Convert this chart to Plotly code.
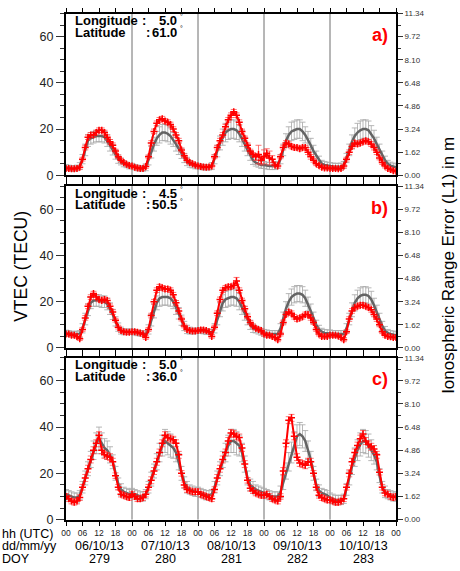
import plotly.graph_objects as go

# ---------------- data ----------------
HOURS = list(range(121))  # hourly samples, 06/10/13 00 UTC .. 11/10/13 00 UTC
DATES = ["06/10/13", "07/10/13", "08/10/13", "09/10/13", "10/10/13"]
DOYS = ["279", "280", "281", "282", "283"]
PANEL_TAGS = ["a)", "b)", "c)"]
LONGITUDES = ["5.0", "4.5", "5.0"]
LATITUDES = ["61.0", "50.5", "36.0"]
LEFT_TICKS = [0, 20, 40, 60]
RIGHT_TICKS = [0.00, 1.62, 3.24, 4.86, 6.48, 8.10, 9.72, 11.34]
TECU_MAX = 70
M_MAX = 11.34

# panel a  (red = station VTEC, gray = mean with std)
a_red = [3, 3, 2.8, 2.8, 3, 3.5, 7, 12, 16.5, 17.5, 17.5, 18.5, 19.5, 19.5, 18.5, 16.5, 14.5, 13, 10.5, 8, 6.5, 5.5, 4.8, 4.3,
         4, 3.5, 3.2, 3, 3, 3.8, 8, 14, 19, 22.5, 24, 24.5, 23.5, 23, 22, 20, 17.5, 15, 11, 8.5, 6.5, 5.5, 5, 4.5,
         4, 3.8, 3.6, 3.5, 3.6, 4, 8, 12, 15, 17.5, 21, 24, 26, 27.5, 26, 23, 19, 16, 13, 10.5, 9, 8, 9, 6.5,
         8, 9.5, 7.5, 7, 4.5, 4, 8, 12, 14, 13.5, 12.5, 12, 12, 11.5, 12, 12, 10, 8, 6.5, 5, 4.2, 3.5, 3.2, 3.2,
         3, 3, 3, 2.8, 3, 4, 7, 10, 12.5, 14, 13.5, 14, 14.5, 15, 14.5, 13.5, 12, 10, 7.5, 5.5, 4, 3, 2.5, 2,
         1.8]
a_red_err = [0.8, 0.8, 0.8, 0.8, 0.8, 0.8, 0.8, 1, 1, 1, 1, 1, 1, 1, 1, 1, 1, 1, 0.8, 0.8, 0.8, 0.8, 0.8, 0.8,
             0.8, 0.8, 0.8, 0.8, 0.8, 0.8, 0.8, 1, 1, 1, 1, 1, 1, 1, 1, 1, 1, 1, 0.8, 0.8, 0.8, 0.8, 0.8, 0.8,
             0.8, 0.8, 0.8, 0.8, 0.8, 0.8, 0.8, 1, 1, 1, 1, 1, 1, 1, 1, 1, 1, 1, 1, 0.8, 0.8, 1.5, 4, 2,
             3, 2, 3, 1.5, 0.8, 0.8, 0.8, 1, 1, 1, 1, 1, 1, 1, 1, 1, 1, 1, 0.8, 0.8, 0.8, 0.8, 0.8, 0.8,
             0.8, 0.8, 0.8, 0.8, 0.8, 0.8, 0.8, 1, 1, 1, 1, 1, 1, 1, 1, 1, 1, 1, 0.8, 0.8, 0.8, 0.8, 0.8, 0.8,
             0.8]
a_gray = [3.5, 3.2, 3, 3, 3.2, 4, 7, 11, 15, 16, 16.5, 17, 17, 17, 16.5, 15, 13, 11, 9, 7, 6, 5, 4.5, 4,
          4, 3.5, 3.2, 3, 3, 3.5, 6.5, 10, 13.5, 16, 17.5, 18.5, 18.5, 18, 17, 15.5, 13.5, 11.5, 9.5, 7.5, 6, 5, 4.5, 4,
          4, 3.7, 3.5, 3.5, 3.5, 4, 7, 10.5, 14, 16.5, 18.5, 19.5, 20, 20, 19.5, 18, 16, 13.5, 11, 8.5, 6.5, 5.5, 5, 4.5,
          4.5, 4.2, 4, 4, 4, 4.5, 7, 11, 15, 17.5, 19, 19.5, 20, 20, 19, 17.5, 15.5, 13, 10.5, 8.5, 6.5, 5, 4.5, 4.2,
          4, 3.8, 3.7, 3.7, 3.8, 4.5, 7.5, 11, 14.5, 17, 18.5, 19.5, 20, 20, 19.5, 18, 16, 13.5, 11, 8.5, 6.5, 5, 4.2, 3.8,
          3.5]
a_gray_err = [1.2, 1.2, 1.2, 1.2, 1.2, 1.5, 2, 2.5, 2.5, 2.5, 2.5, 2.5, 2.5, 2.5, 2.5, 2.5, 2.5, 2.2, 2, 1.8, 1.5, 1.3, 1.2, 1.2,
              1.2, 1.2, 1.2, 1.2, 1.2, 1.5, 2, 2.5, 3, 3, 3.5, 3.5, 3.5, 3.5, 3.5, 3, 3, 2.5, 2.2, 2, 1.8, 1.5, 1.3, 1.2,
              1.2, 1.2, 1.2, 1.2, 1.2, 1.5, 2, 2.5, 3, 3.5, 4, 4, 4, 4, 4, 3.5, 3.5, 3, 2.5, 2, 1.8, 1.5, 1.5, 1.5,
              1.5, 1.5, 1.5, 1.5, 1.5, 1.5, 2, 2.5, 3, 3.5, 4, 4, 4, 4, 4, 3.5, 3.5, 3, 2.5, 2, 1.8, 1.5, 1.5, 1.5,
              1.5, 1.5, 1.5, 1.5, 1.5, 1.5, 2, 2.5, 3, 3.5, 4, 4, 4, 4, 4, 3.5, 3.5, 3, 2.5, 2, 1.8, 1.5, 1.5, 1.5,
              1.5]

# panel b
b_red = [6, 6, 5.5, 5.5, 5, 4, 8, 13, 18, 22, 23.5, 22, 21, 20.5, 21, 20.5, 18, 15.5, 12, 9, 7.5, 7, 6.8, 6.8,
         7, 7, 6.8, 6.5, 6, 4.5, 8, 14, 20, 25, 26.5, 26, 25.5, 25.5, 25, 23, 19.5, 16, 12.5, 9.5, 8, 7.5, 7.3, 7.3,
         7.5, 7.8, 7.8, 7.5, 7, 5, 9, 15, 21, 25, 26, 26.5, 26.5, 27, 29, 25, 20.5, 17, 13.5, 11, 9.5, 8.5, 8, 7.5,
         6, 5.5, 5.5, 5, 4.5, 3.5, 6, 11, 14.5, 15.5, 15, 13.5, 12.5, 13, 13.5, 14.5, 14.5, 13, 11, 8, 6, 5, 5, 5,
         5.5, 5.5, 5.5, 5.2, 4.5, 3.5, 7, 12.5, 16, 17.5, 18, 18.5, 18.5, 18, 17.5, 16.5, 14.5, 12.5, 10, 7, 5.5, 5, 4.8, 4.5,
         4.5]
b_red_err = [0.8, 0.8, 0.8, 0.8, 0.8, 0.8, 0.8, 1, 1, 1, 1, 1, 1, 1, 1, 1, 1, 1, 0.8, 0.8, 0.8, 0.8, 0.8, 0.8,
             0.8, 0.8, 0.8, 0.8, 0.8, 0.8, 0.8, 1, 1, 1, 1, 1, 1, 1, 1, 1, 1, 1, 0.8, 0.8, 0.8, 0.8, 0.8, 0.8,
             0.8, 0.8, 0.8, 0.8, 0.8, 0.8, 0.8, 1, 1, 1, 1, 1, 1, 1, 1.5, 1, 1, 1, 0.8, 0.8, 0.8, 0.8, 0.8, 0.8,
             0.8, 0.8, 0.8, 0.8, 0.8, 0.8, 0.8, 1, 1, 1, 1, 1, 1, 1, 1, 1, 1, 1, 0.8, 0.8, 0.8, 0.8, 0.8, 0.8,
             0.8, 0.8, 0.8, 0.8, 0.8, 0.8, 0.8, 1, 1, 1, 1, 1, 1, 1, 1, 1, 1, 1, 0.8, 0.8, 0.8, 0.8, 0.8, 0.8,
             0.8]
b_gray = [6.5, 6.3, 6, 6, 6, 6, 8.5, 12.5, 16.5, 19.5, 20.5, 20.5, 20.5, 20, 20, 19, 17, 14.5, 11.5, 9, 7.5, 7, 7, 7,
          7, 6.8, 6.5, 6.3, 6.2, 6, 8, 12, 16, 19.5, 21.5, 22, 22, 22, 21.5, 20, 17.5, 15, 12, 9.5, 8, 7.5, 7.3, 7.3,
          7.5, 7.5, 7.3, 7, 7, 6.5, 8.5, 12.5, 16.5, 19.5, 21, 21.5, 22, 22, 21.5, 20, 17.5, 15, 12.5, 10, 8.5, 8, 7.5, 7,
          6.5, 6.3, 6, 6, 6, 6, 8.5, 13, 17, 20, 22, 23, 23.5, 23.5, 23, 21.5, 19, 16, 13, 10, 8, 7, 6.5, 6.3,
          6.3, 6, 6, 6, 6, 6, 8.5, 12.5, 16.5, 19.5, 21.5, 22.5, 23, 23, 22.5, 21, 18.5, 15.5, 12.5, 9.5, 7.5, 6.5, 6, 5.8,
          5.5]
b_gray_err = [1.2, 1.2, 1.2, 1.2, 1.2, 1.5, 2, 2.5, 2.5, 2.5, 2.5, 2.5, 2.5, 2.5, 2.5, 2.5, 2.5, 2.2, 2, 1.8, 1.5, 1.3, 1.2, 1.2,
              1.2, 1.2, 1.2, 1.2, 1.2, 1.5, 2, 2.5, 3, 3, 3.5, 3.5, 3.5, 3.5, 3.5, 3, 3, 2.5, 2.2, 2, 1.8, 1.5, 1.3, 1.2,
              1.2, 1.2, 1.2, 1.2, 1.2, 1.5, 2, 2.5, 3, 3.5, 3.5, 3.5, 3.5, 3.5, 3.5, 3.5, 3, 3, 2.5, 2, 1.8, 1.5, 1.5, 1.5,
              1.5, 1.5, 1.5, 1.5, 1.5, 1.5, 2, 2.5, 3, 3.5, 3.5, 3.5, 3.5, 3.5, 3.5, 3.5, 3, 3, 2.5, 2, 1.8, 1.5, 1.5, 1.5,
              1.5, 1.5, 1.5, 1.5, 1.5, 1.5, 2, 2.5, 3, 3.5, 3.5, 3.5, 3.5, 3.5, 3.5, 3.5, 3, 3, 2.5, 2, 1.8, 1.5, 1.5, 1.5,
              1.5]

# panel c
c_red = [10, 9, 8, 7.5, 8, 9.5, 14, 18, 22, 26, 30, 33, 36.5, 30, 28, 27.5, 27, 25, 19, 14, 11, 10.5, 10, 9.5,
         11, 10, 9, 9, 9.5, 11, 14, 17, 21, 25, 29, 33, 36.5, 35.5, 35, 34.5, 33, 28, 20, 15, 13, 12.5, 12, 12,
         12, 11, 10.5, 10, 9.5, 9, 13, 18, 22, 26, 29, 34, 37.5, 37, 36, 35.5, 31, 24, 17, 13.5, 12.5, 11.5, 11, 10.5,
         10.5, 11, 10, 9, 8.5, 8, 10, 21, 33, 43, 44, 36, 27, 24.5, 24, 23.5, 25, 25, 20, 14, 10.5, 9.5, 9, 8.5,
         8.5, 8, 7.5, 7.5, 8, 9, 14, 20, 25, 29, 32, 35, 37, 34, 32.5, 31.5, 30.5, 28, 20.5, 14, 11.5, 11, 10, 9.5,
         10]
c_red_err = [1.2, 1.2, 1.2, 1.2, 1.2, 1.2, 1.2, 1.5, 1.5, 1.5, 1.5, 1.5, 1.5, 1.5, 1.5, 1.5, 1.5, 1.5, 1.2, 1.2, 1.2, 1.2, 1.2, 1.2,
             1.2, 1.2, 1.2, 1.2, 1.2, 1.2, 1.2, 1.5, 1.5, 1.5, 1.5, 1.5, 1.5, 1.5, 1.5, 1.5, 1.5, 1.5, 1.2, 1.2, 1.2, 1.2, 1.2, 1.2,
             1.2, 1.2, 1.2, 1.2, 1.2, 1.2, 1.2, 1.5, 1.5, 1.5, 1.5, 1.5, 1.5, 1.5, 1.5, 1.5, 1.5, 1.5, 1.2, 1.2, 1.2, 1.2, 1.2, 1.2,
             1.2, 1.2, 1.2, 1.2, 1.2, 1.2, 1.2, 1.5, 1.5, 1.5, 1.5, 1.5, 1.5, 1.5, 1.5, 1.5, 1.5, 1.5, 1.2, 1.2, 1.2, 1.2, 1.2, 1.2,
             1.2, 1.2, 1.2, 1.2, 1.2, 1.2, 1.2, 1.5, 1.5, 1.5, 1.5, 1.5, 1.5, 1.5, 1.5, 1.5, 1.5, 1.5, 1.2, 1.2, 1.2, 1.2, 1.2, 1.2,
             1.2]
c_gray = [11, 10.5, 10, 9.5, 9.5, 10.5, 14, 18, 22, 26, 30, 33, 35, 33, 31, 30, 28, 25, 20, 15.5, 13, 12, 11.5, 11,
          11.5, 11, 10.5, 10, 10, 11, 14, 17.5, 21, 25, 29, 32, 34, 33, 32, 31, 29, 25, 20, 16, 14, 13, 12.5, 12,
          12, 11.5, 11, 10.5, 10.5, 11, 14, 18, 22, 26, 29, 32, 34, 34, 33, 32, 29, 24, 18, 15, 14, 13, 12.5, 12,
          11.5, 11, 10.5, 10, 10, 10, 12, 16, 21, 25, 29, 33, 36, 37, 36, 34, 30, 26, 20, 15, 12.5, 11.5, 11, 10.5,
          9.5, 9, 8.5, 8.5, 8.5, 9, 13, 18, 23, 27, 30, 32.5, 34, 33.5, 32, 30, 28, 25, 19, 14, 12, 11, 10.5, 10,
          10]
c_gray_err = [2, 2, 2, 2, 2, 2, 2.5, 3, 3, 3.5, 4, 4.5, 5, 4.5, 4, 4, 3.5, 3, 3, 2.5, 2.5, 2, 2, 2,
              2, 2, 2, 2, 2, 2, 2.5, 3, 3, 3.5, 4, 4.5, 5, 5, 5, 4.5, 4, 3.5, 3, 2.5, 2.5, 2, 2, 2,
              2, 2, 2, 2, 2, 2, 2.5, 3, 3, 3.5, 4, 4.5, 5, 5, 5, 4.5, 4, 3.5, 3, 2.5, 2.5, 2, 2, 2,
              2, 2, 2, 2, 2, 2, 2.5, 3, 3.5, 4, 4.5, 5, 5, 5, 5, 4.5, 4, 3.5, 3, 2.5, 2.5, 2, 2, 2,
              2, 2, 2, 2, 2, 2, 2.5, 3, 3.5, 4, 4.5, 5, 5, 5, 5, 4.5, 4, 3.5, 3, 2.5, 2.5, 2, 2, 2,
              2]

PANELS = [
    (a_red, a_red_err, a_gray, a_gray_err),
    (b_red, b_red_err, b_gray, b_gray_err),
    (c_red, c_red_err, c_gray, c_gray_err),
]

# ---------------- layout geometry (pixels) ----------------
W, H = 460, 571
L, R = 66, 396
PANEL_PX = [(9.7, 174.7), (185.7, 350.7), (360.7, 525.7)]
FONT = "Liberation Sans, Arial, Helvetica, sans-serif"


def px_x(p):
    return (p - L) / (R - L)


def px_y(p):
    return 1 - p / H


fig = go.Figure()
annotations = []
shapes = []
layout = {}

hour_ticks = HOURS[::6]
hour_text = ["%02d" % (h % 24) for h in hour_ticks]

for i, (red, red_err, gray, gray_err) in enumerate(PANELS):
    k = "" if i == 0 else str(i + 1)
    xname, yname = "x" + k, "y" + k
    rname = "y" + str(i + 4)
    top, bot = PANEL_PX[i]
    dom = [px_y(bot), px_y(top)]

    # gray mean with std bars
    fig.add_trace(go.Scatter(
        x=HOURS, y=gray, mode="lines", xaxis=xname, yaxis=yname,
        line=dict(color="rgb(100,100,100)", width=2.5),
        error_y=dict(type="data", array=gray_err, color="rgba(170,170,170,0.85)",
                     thickness=1, width=3),
        showlegend=False, hoverinfo="skip"))
    # red series
    fig.add_trace(go.Scatter(
        x=HOURS, y=red, mode="lines+markers", xaxis=xname, yaxis=yname,
        line=dict(color="rgb(255,0,0)", width=2),
        marker=dict(symbol="cross-thin", size=5, color="red",
                    line=dict(color="red", width=1.5)),
        error_y=dict(type="data", array=red_err, color="rgba(255,60,60,0.7)",
                     thickness=1, width=3),
        showlegend=False, hoverinfo="skip"))

    xa = dict(domain=[0, 1], range=[HOURS[0], HOURS[-1]], anchor=yname,
              tickvals=hour_ticks, ticktext=hour_text,
              showticklabels=(i == 2), ticks="outside", ticklen=4,
              tickwidth=1, tickcolor="black",
              showline=True, linewidth=2, linecolor="black", mirror="ticks",
              showgrid=False, zeroline=False,
              tickfont=dict(family=FONT, size=8.5, color="#222"))
    ya = dict(domain=dom, range=[0, TECU_MAX], anchor=xname,
              tickvals=LEFT_TICKS, ticks="outside", ticklen=8, tickwidth=1,
              tickcolor="#333",
              minor=dict(dtick=5, ticks="outside", ticklen=4, tickcolor="#333",
                         tickwidth=1, showgrid=False),
              showline=True, linewidth=2, linecolor="black",
              showgrid=False, zeroline=False,
              tickfont=dict(family=FONT, size=12.5, color="#222"))
    ra = dict(domain=dom, range=[0, M_MAX], overlaying=yname, side="right",
              anchor=xname, tickvals=RIGHT_TICKS,
              ticktext=["%.2f" % v for v in RIGHT_TICKS],
              ticks="outside", ticklen=5, tickwidth=1, tickcolor="#333",
              minor=dict(dtick=(RIGHT_TICKS[1] - RIGHT_TICKS[0]) / 2,
                         ticks="outside", ticklen=3, tickcolor="#333",
                         tickwidth=1, showgrid=False),
              showline=True, linewidth=2, linecolor="black",
              showgrid=False, zeroline=False,
              tickfont=dict(family=FONT, size=8, color="#333"))
    layout["xaxis" + k] = xa
    layout["yaxis" + k] = ya
    layout["yaxis" + str(i + 4)] = ra

    # invisible anchor trace so the right-hand axis is drawn
    fig.add_trace(go.Scatter(x=[HOURS[0]], y=[0], xaxis=xname, yaxis=rname,
                             mode="markers", marker=dict(opacity=0),
                             showlegend=False, hoverinfo="skip"))

    # day separators
    for d in range(1, len(DATES)):
        shapes.append(dict(type="line", xref=xname, yref=yname + " domain",
                           x0=24 * d, x1=24 * d, y0=0, y1=1, layer="below",
                           line=dict(color="rgb(110,110,110)", width=1)))

    # location text
    off = top - PANEL_PX[0][0]
    for txt, xp, yp, anc in [("Longitude", 73, 16.8, "left"),
                             (":", 143.5, 16.8, "center"),
                             (LONGITUDES[i], 178.5, 16.8, "right"),
                             ("Latitude", 73, 28.8, "left"),
                             (":", 148, 28.8, "center"),
                             (LATITUDES[i], 178.5, 28.8, "right")]:
        annotations.append(dict(text="<b>%s</b>" % txt, xref="paper", yref="paper",
                                x=px_x(xp), y=px_y(yp + off), xanchor=anc,
                                yanchor="middle", showarrow=False,
                                font=dict(family=FONT, size=13, color="black")))
    for yp in (13, 25):
        annotations.append(dict(text="°", xref="paper", yref="paper",
                                x=px_x(177.5), y=px_y(yp + off), xanchor="left",
                                yanchor="middle", showarrow=False,
                                font=dict(family=FONT, size=7, color="black")))
    annotations.append(dict(text="<b>%s</b>" % PANEL_TAGS[i], xref="paper", yref="paper",
                            x=px_x(389.5), y=px_y(31.5 + off), xanchor="right",
                            yanchor="middle", showarrow=False,
                            font=dict(family=FONT, size=18, color="red")))

# axis titles
annotations.append(dict(text="VTEC (TECU)", xref="paper", yref="paper",
                        x=px_x(21), y=px_y(268), textangle=-90, showarrow=False,
                        xanchor="center", yanchor="middle",
                        font=dict(family=FONT, size=17.5, color="black")))
annotations.append(dict(text="Ionospheric Range Error (L1) in m", xref="paper", yref="paper",
                        x=px_x(449), y=px_y(267), textangle=-90, showarrow=False,
                        xanchor="center", yanchor="middle",
                        font=dict(family=FONT, size=17, color="black")))

# bottom row labels
for txt, yp in [("hh (UTC)", 540), ("dd/mm/yy", 553), ("DOY", 566)]:
    annotations.append(dict(text=txt, xref="paper", yref="paper",
                            x=px_x(0), y=px_y(yp), xanchor="left", yanchor="middle",
                            showarrow=False,
                            font=dict(family=FONT, size=12.5, color="black")))
for d, (dt, doy) in enumerate(zip(DATES, DOYS)):
    for txt, yp in [(dt, 553), (doy, 566)]:
        annotations.append(dict(text=txt, xref="x3", yref="paper",
                                x=24 * d + 12, y=px_y(yp), xanchor="center",
                                yanchor="middle", showarrow=False,
                                font=dict(family=FONT, size=12.5, color="black")))

fig.update_layout(
    width=W, height=H,
    margin=dict(l=L, r=W - R, t=0, b=0),
    paper_bgcolor="white", plot_bgcolor="white",
    showlegend=False,
    annotations=annotations, shapes=shapes,
    font=dict(family=FONT),
    **layout)

fig.write_html("out.html", config={"displayModeBar": False},
               post_script="document.body.style.margin='0';document.body.style.overflow='hidden';")
